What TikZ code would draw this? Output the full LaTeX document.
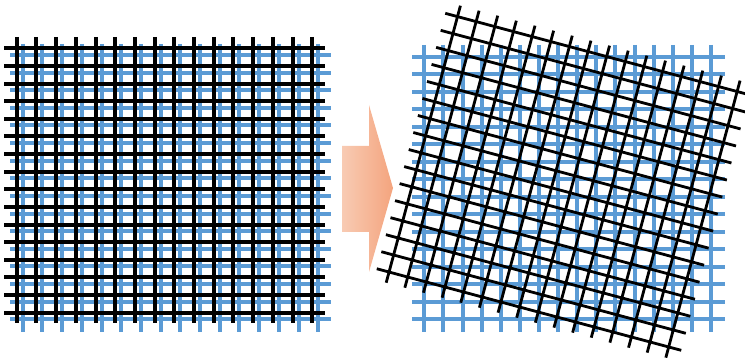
\documentclass[tikz,border=0pt]{standalone}
\definecolor{gridblue}{HTML}{5B9BD5}
\definecolor{arrowlight}{HTML}{F8CBB3}
\definecolor{arrowdark}{HTML}{F4A47E}
\tikzset{
  blueline/.style={draw=gridblue, line width=4pt},
  blackline/.style={draw=black, line width=4pt},
  thinblack/.style={draw=black, line width=2.8pt},
  bigarrow/.style={left color=arrowlight, right color=arrowdark, draw=none}
}
\begin{document}
\begin{tikzpicture}[x=1pt,y=-1pt]
\useasboundingbox (0,0) rectangle (745,358);
\clip (0,0) rectangle (745,358);
% ---------- left: blue grid ----------
\foreach \i in {0,...,15}{
  \draw[blueline] ({22.7+19.7*\i},44) -- ({22.7+19.7*\i},332);
  \draw[blueline] (10,{55+17.62*\i}) -- (331,{55+17.62*\i});
}
% ---------- left: black grid ----------
\foreach \i in {0,...,15}{
  \draw[blackline] ({16.7+19.7*\i},37) -- ({16.7+19.7*\i},323);
  \draw[blackline] (4,{48.3+17.63*\i}) -- (325,{48.3+17.63*\i});
}
% ---------- arrow ----------
\path[bigarrow] (342,146) -- (369,146) -- (369,105) -- (393,188) -- (369,272) -- (369,232) -- (342,232) -- cycle;
% ---------- right: blue grid ----------
\foreach \i in {0,...,15}{
  \draw[blueline] ({424.3+19.11*\i},45) -- ({424.3+19.11*\i},332);
  \draw[blueline] (412,{56.7+17.49*\i}) -- (725,{56.7+17.49*\i});
}
% ---------- right: rotated black grid ----------
\begin{scope}[shift={(457.5,16.6)}, rotate=-15]
\foreach \i in {0,...,15}{
  \draw[thinblack] ({19.3*\i},-11.3) -- ({19.3*\i},275.5);
  \draw[thinblack] (-12.7,{17.63*\i}) -- (302.5,{17.63*\i});
}
\end{scope}
\end{tikzpicture}
\end{document}
